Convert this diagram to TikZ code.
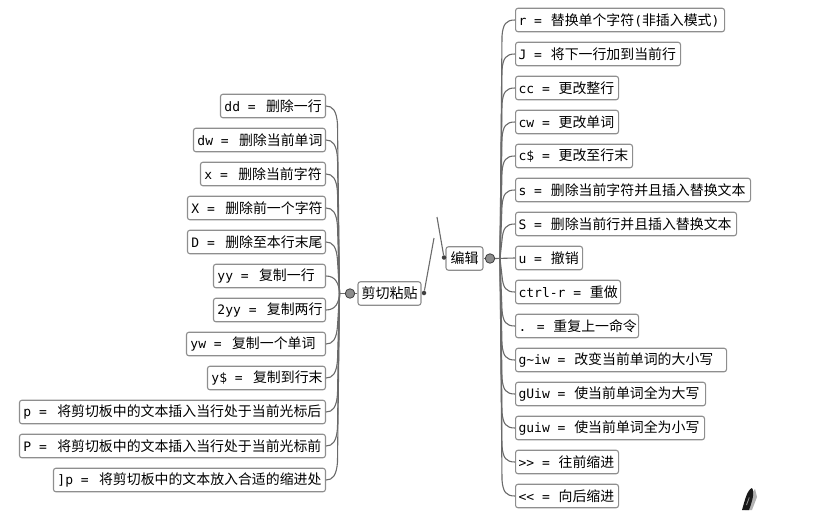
\documentclass[tikz,border=0pt]{standalone}
\usepackage{fontspec}
\setmainfont{DejaVu Sans Mono}
\newfontfamily\cjk{Noto Sans CJK SC}
\usetikzlibrary{calc}
\definecolor{edge}{HTML}{8E8E8E}
\definecolor{conn}{HTML}{6A6A6A}
\tikzset{
 item/.style={draw=edge,line width=1.1pt,rounded corners=2.5pt,fill=white,inner sep=0pt,minimum height=23.5pt,font=\fontsize{13}{15}\selectfont,text=black},
 litem/.style={item,anchor=east},
 ritem/.style={item,anchor=west},
 wire/.style={draw=conn,line width=1.1pt},
 hub/.style={circle,draw=black!75,fill=black!45,line width=.8pt,minimum size=9.5pt,inner sep=0pt},
 tinydot/.style={circle,fill=black!75,minimum size=4.5pt,inner sep=0pt}
}
\newcommand{\txt}[3]{\parbox{#1pt}{\hspace*{3pt}#2 = \hspace{1pt}{\fontsize{13.9}{15}\cjk #3}\hfill}}
\newcommand{\ltxt}[3]{\parbox{#1pt}{\hspace*{4pt}#2 = \hspace{2.5pt}{\fontsize{13.9}{15}\cjk #3}\hfill}}
\newcommand{\rspine}[3]{\draw[wire] (#1) -- ($(#2.west)+(-13,#3*16)$) .. controls ($(#2.west)+(-12,#3*4)$) and ($(#2.west)+(-9,0)$) .. (#2.west);}
\newcommand{\lspine}[3]{\draw[wire] (#1) -- ($(#2.east)+(11.5,#3*18)$) .. controls ($(#2.east)+(10.5,#3*5)$) and ($(#2.east)+(7,0)$) .. (#2.east);}
\begin{document}
\begin{tikzpicture}[x=1pt,y=-1pt]
\useasboundingbox (0,0) rectangle (823,515);
% central
\node[item,font=\fontsize{14}{15}\cjk,minimum width=63pt] (cut) at (389.5,293.5) {剪切粘贴};
\node[item,font=\fontsize{14}{15}\cjk,minimum width=37pt] (edit) at (464.5,258.5) {编辑};
\node[hub] (hl) at (350,293.5) {};
\node[hub] (hr) at (490,258.5) {};
\node[tinydot] (dl) at (424,293) {};
\node[tinydot] (dr) at (444,257.5) {};
\coordinate (fl) at (434,238);
\coordinate (fr) at (437,217);
\coordinate (jl) at (339.5,293.5);
\coordinate (jr) at (500,258.5);
\draw[wire] (dl) -- (fl);
\draw[wire] (dr) -- (fr);
\draw[wire] (cut.west) -- (hl);
\draw[wire] (edit.east) -- (hr);
\draw[wire] (hl) -- (jl);
% right items
\node[ritem] (r1) at (515,20) {\txt{209}{r}{替换单个字符{\fontsize{13}{15}\rmfamily(}非插入模式{\fontsize{13}{15}\rmfamily)}}};
\node[ritem] (r2) at (515,54) {\txt{165}{J}{将下一行加到当前行}};
\node[ritem] (r3) at (515,88) {\txt{103}{cc}{更改整行}};
\node[ritem] (r4) at (515,122) {\txt{103}{cw}{更改单词}};
\node[ritem] (r5) at (515,156) {\txt{117}{c\$}{更改至行末}};
\node[ritem] (r6) at (515,190) {\txt{235}{s}{删除当前字符并且插入替换文本}};
\node[ritem] (r7) at (515,224) {\txt{221}{S}{删除当前行并且插入替换文本}};
\node[ritem] (r8) at (515,258) {\txt{67}{u}{撤销}};
\node[ritem] (r9) at (515,292) {\txt{105}{ctrl-r}{重做}};
\node[ritem] (r10) at (515,326) {\txt{123}{.}{重复上一命令}};
\node[ritem] (r11) at (515,360) {\txt{211}{g\string~iw}{改变当前单词的大小写}};
\node[ritem] (r12) at (515,394) {\txt{190}{gUiw}{使当前单词全为大写}};
\node[ritem] (r13) at (515,428) {\txt{189}{guiw}{使当前单词全为小写}};
\node[ritem] (r14) at (515,462) {\txt{103}{>{}>}{往前缩进}};
\node[ritem] (r15) at (515,496) {\txt{103}{<{}<}{向后缩进}};
% left items
\node[litem] (l1) at (326,106) {\ltxt{105}{dd}{删除一行}};
\node[litem] (l2) at (326,140) {\ltxt{132}{dw}{删除当前单词}};
\node[litem] (l3) at (326,174) {\ltxt{125}{x}{删除当前字符}};
\node[litem] (l4) at (326,208) {\ltxt{138}{X}{删除前一个字符}};
\node[litem] (l5) at (326,242) {\ltxt{138}{D}{删除至本行末尾}};
\node[litem] (l6) at (326,276) {\ltxt{112}{yy}{复制一行}};
\node[litem] (l7) at (326,310) {\ltxt{112}{2yy}{复制两行}};
\node[litem] (l8) at (326,344) {\ltxt{139}{yw}{复制一个单词}};
\node[litem] (l9) at (326,378) {\ltxt{118}{y\$}{复制到行末}};
\node[litem] (l10) at (326,412) {\ltxt{306}{p}{将剪切板中的文本插入当行处于当前光标后}};
\node[litem] (l11) at (326,446) {\ltxt{306}{P}{将剪切板中的文本插入当行处于当前光标前}};
\node[litem] (l12) at (326,480) {\ltxt{272}{]p}{将剪切板中的文本放入合适的缩进处}};
% connectors right
\rspine{jr}{r1}{1}\rspine{jr}{r2}{1}\rspine{jr}{r3}{1}\rspine{jr}{r4}{1}\rspine{jr}{r5}{1}\rspine{jr}{r6}{1}\rspine{jr}{r7}{1}
\draw[wire] (hr.east) -- (r8.west);
\rspine{jr}{r9}{-1}\rspine{jr}{r10}{-1}\rspine{jr}{r11}{-1}\rspine{jr}{r12}{-1}\rspine{jr}{r13}{-1}\rspine{jr}{r14}{-1}\rspine{jr}{r15}{-1}
% connectors left
\lspine{jl}{l1}{1}\lspine{jl}{l2}{1}\lspine{jl}{l3}{1}\lspine{jl}{l4}{1}\lspine{jl}{l5}{1}\draw[wire] (jl) .. controls (339,284) and (336,276) .. (l6.east);
\draw[wire] (jl) .. controls (339,302) and (336,310) .. (l7.east);
\lspine{jl}{l8}{-1}\lspine{jl}{l9}{-1}\lspine{jl}{l10}{-1}\lspine{jl}{l11}{-1}\lspine{jl}{l12}{-1}
% pen
\fill[black!30] (745,510) -- (750,496) -- (755,489) -- (757,497) -- (752,510) -- cycle;
\fill[black!90] (742,510) .. controls (745,500) and (747,490) .. (752,488) .. controls (755,492) and (752,502) .. (749,510) -- cycle;
\fill[black!45] (746,505) -- (749,497) -- (749.5,498) -- (747,505) -- cycle;
\end{tikzpicture}
\end{document}
